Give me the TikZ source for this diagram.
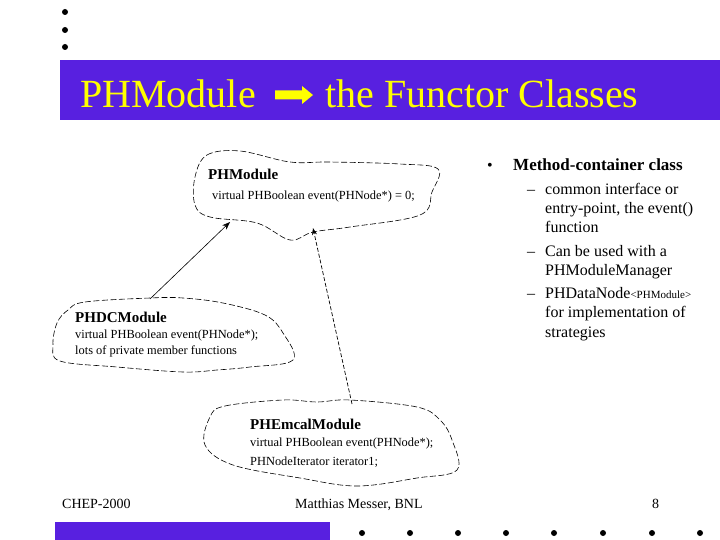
\documentclass[tikz,border=0pt]{standalone}
\usepackage{fontspec}
\setmainfont{Liberation Serif}
\usetikzlibrary{arrows.meta}
\definecolor{barblue}{RGB}{88,32,224}
\definecolor{titleyellow}{RGB}{255,255,0}
\begin{document}
\begin{tikzpicture}[x=1pt,y=-1pt,
  txt/.style={inner sep=0pt,anchor=base west},
  cloudline/.style={line width=0.6pt,dash pattern=on 6pt off 2.5pt},
  clstitle/.style={txt,font=\fontsize{15}{18}\selectfont\bfseries},
  clsline/.style={txt,font=\fontsize{12.4}{15}\selectfont},
  bodyline/.style={txt,font=\fontsize{16}{19}\selectfont},
  foot/.style={txt,font=\fontsize{14}{16}\selectfont},
  dotmark/.style={fill=black}]
\useasboundingbox (0,0) rectangle (720,540);
\fill[white] (0,0) rectangle (720,540);
% top dots
\foreach \yy in {12,30,47} \fill[dotmark] (65,\yy) circle (3pt);
% title bar
\fill[barblue] (60,60) rectangle (720,120);
\node[txt,text=titleyellow,font=\fontsize{40}{44}\selectfont] (t1) at (80,108) {PHModule};
\fill[titleyellow] (275,90.5) -- (302,90.5) -- (302,86) -- (313,95) -- (302,104) -- (302,99.5) -- (275,99.5) -- cycle;
\node[txt,text=titleyellow,font=\fontsize{40}{44}\selectfont] (t2) at (325,108) {the Functor Classes};
% cloud PHModule
\draw[cloudline] plot[smooth cycle,tension=0.6] coordinates {(195,177) (207,155) (240,151) (290,162) (330,162) (400,164) (438,169) (432,192) (420,215) (350,227) (313,232) (290,240) (257,223) (210,217) (195,205)};
\node[clstitle] (pmtitle) at (208,180) {PHModule};
\node[clsline] (pmline) at (212,200) {virtual PHBoolean event(PHNode*) = 0;};
% cloud PHDCModule
\draw[cloudline] plot[smooth cycle,tension=0.6] coordinates {(68,310) (85,302) (150,298) (183,298) (223,303) (265,315) (283,333) (293,360) (250,367) (217,370) (183,372) (117,367) (60,361) (53,345) (57,323)};
\node[clstitle] (dctitle) at (75,322) {PHDCModule};
\node[clsline] (dcline1) at (75,338) {virtual PHBoolean event(PHNode*);};
\node[clsline] (dcline2) at (75,354) {lots of private member functions};
% cloud PHEmcalModule
\draw[cloudline] plot[smooth cycle,tension=0.6] coordinates {(210,417) (225,406) (283,400) (317,402) (350,400) (417,407) (440,420) (452,440) (457,470) (417,478) (357,486) (300,478) (233,465) (205,445)};
\node[clstitle] (emtitle) at (250,429) {PHEmcalModule};
\node[clsline] (emline1) at (250,446) {virtual PHBoolean event(PHNode*);};
\node[clsline] (emline2) at (250,465) {PHNodeIterator iterator1;};
% connectors
\coordinate (dctop) at (150,299);
\coordinate (pmbotl) at (230,222);
\coordinate (emtop) at (352,404);
\coordinate (pmbotr) at (313,228);
\draw[line width=0.6pt,-{Stealth[length=8pt,width=6pt]}] (dctop) -- (pmbotl);
\draw[line width=0.7pt,dash pattern=on 4pt off 2pt,-{Stealth[length=7pt,width=5pt]}] (emtop) -- (pmbotr);
% right text
\node[txt,font=\fontsize{16}{19}\selectfont] (bul) at (487,171) {•};
\node[txt,font=\fontsize{17}{20}\selectfont\bfseries] (head) at (513,171) {Method-container class};
\foreach \yy in {195,256,298} \node[bodyline] at (527,\yy) {–};
\node[bodyline] (r1) at (545,195) {common interface or};
\node[bodyline] (r2) at (545,214) {entry-point, the event()};
\node[bodyline] (r3) at (545,233) {function};
\node[bodyline] (r4) at (545,256) {Can be used with a};
\node[bodyline] (r5) at (545,275) {PHModuleManager};
\node[bodyline] (r6) at (545,298) {PHDataNode{\fontsize{11}{13}\selectfont<PHModule>}};
\node[bodyline] (r7) at (545,317) {for implementation of};
\node[bodyline] (r8) at (545,337) {strategies};
% footer
\node[foot] (f1) at (62,508) {CHEP-2000};
\node[foot] (f2) at (295,508) {Matthias Messer, BNL};
\node[foot] (f3) at (652,508) {8};
\fill[barblue] (55,522) rectangle (330,540);
\foreach \xx in {362,410,458,506,554,603,652,700} \fill[dotmark] (\xx,533) circle (3pt);
\end{tikzpicture}
\end{document}
